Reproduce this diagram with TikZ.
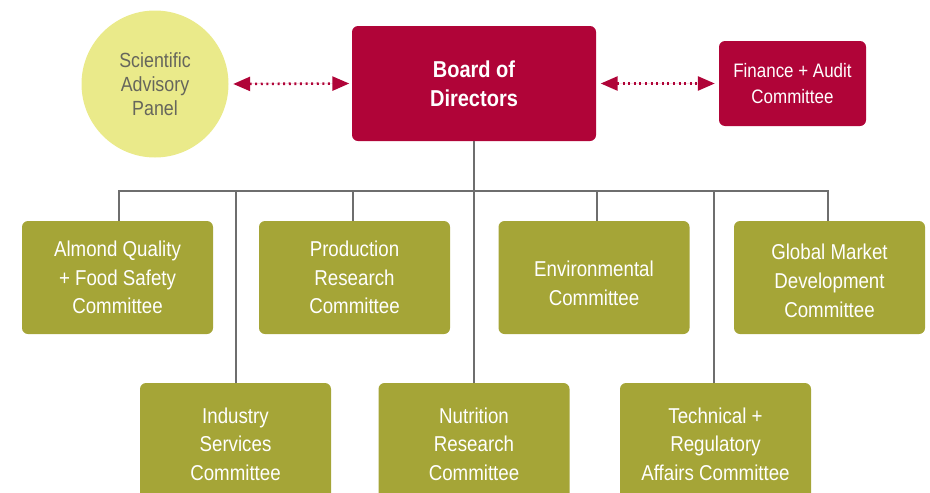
\documentclass[tikz,border=0pt]{standalone}
\usepackage{fontspec}
\setmainfont{Liberation Sans}
\newfontfamily\condfont[FakeStretch=0.87]{Liberation Sans}
\usetikzlibrary{arrows.meta}
\definecolor{crim}{HTML}{B00438}
\definecolor{olive}{HTML}{A5A537}
\definecolor{pale}{HTML}{EAEA8A}
\definecolor{linegray}{HTML}{6E6E6E}
\definecolor{txtgray}{HTML}{66665C}
\tikzset{
  combox/.style={fill=olive, rounded corners=6pt, minimum width=191pt, inner sep=0pt,
    text=white, align=center, font=\condfont\fontsize{21.5}{28.5}\selectfont},
  topbox/.style={combox, minimum height=113pt},
  botbox/.style={combox, minimum height=122pt},
  redbox/.style={fill=crim, rounded corners=6pt, inner sep=0pt, text=white, align=center},
  conn/.style={draw=linegray, line width=1.3pt},
  dotarrow/.style={draw=crim, fill=crim, line width=2.6pt, dash pattern=on 2pt off 3.6pt,
    {Triangle[length=17pt,width=14pt]}-{Triangle[length=17pt,width=14pt]}}
}
\begin{document}
\begin{tikzpicture}[x=1pt,y=-1pt]
\useasboundingbox (0,0) rectangle (930,493);
\clip (0,0) rectangle (930,493);
% top nodes
\node[circle, fill=pale, minimum size=147pt, inner sep=0pt, text=txtgray, align=center,
  font=\condfont\fontsize{20.5}{24}\selectfont] (sci) at (155,84) {Scientific\\Advisory\\Panel};
\node[redbox, minimum width=244pt, minimum height=115pt,
  font=\condfont\bfseries\fontsize{23}{29}\selectfont] (board) at (474,83.5) {Board of\\Directors};
\node[redbox, minimum width=147pt, minimum height=85pt,
  font=\condfont\fontsize{19.5}{26}\selectfont] (fin) at (792.5,83.5) {Finance + Audit\\Committee};
% committees
\node[topbox] (alm) at (117.5,277.5) {Almond Quality\\+ Food Safety\\Committee};
\node[topbox] (prod) at (354.5,277.5) {Production\\Research\\Committee};
\node[topbox] (env) at (594,277.5) {\raisebox{-13pt}[40pt][40pt]{\begin{tabular}{@{}c@{}}Environmental\\Committee\end{tabular}}};
\node[topbox] (glob) at (829.5,277.5) {\raisebox{-10pt}[50pt][50pt]{\begin{tabular}{@{}c@{}}Global Market\\[0.5pt]Development\\[0.5pt]Committee\end{tabular}}};
\node[botbox] (ind) at (235.5,444) {Industry\\Services\\Committee};
\node[botbox] (nut) at (474,444) {Nutrition\\Research\\Committee};
\node[botbox] (tech) at (715.5,444) {Technical +\\Regulatory\\Affairs Committee};
% drop points on the bus
\coordinate (bus) at (474,191);
\coordinate (dalm) at (119,221);
\coordinate (dprod) at (353,221);
\coordinate (denv) at (597,221);
\coordinate (dglob) at (828,221);
\coordinate (dind) at (236,383);
\coordinate (dtech) at (714,383);
% connectors
\draw[conn] (board.south) -- (nut.north);
\draw[conn] (dalm) |- (bus) -| (dglob);
\draw[conn] (dind) -- (dind |- bus);
\draw[conn] (dprod) -- (dprod |- bus);
\draw[conn] (denv) -- (denv |- bus);
\draw[conn] (dtech) -- (dtech |- bus);
% arrows
\draw[dotarrow, shorten <=4.5pt, shorten >=2.5pt] (sci.east) -- (board.west);
\draw[dotarrow, shorten <=4.5pt, shorten >=4pt] (board.east) -- (fin.west);
\end{tikzpicture}
\end{document}
